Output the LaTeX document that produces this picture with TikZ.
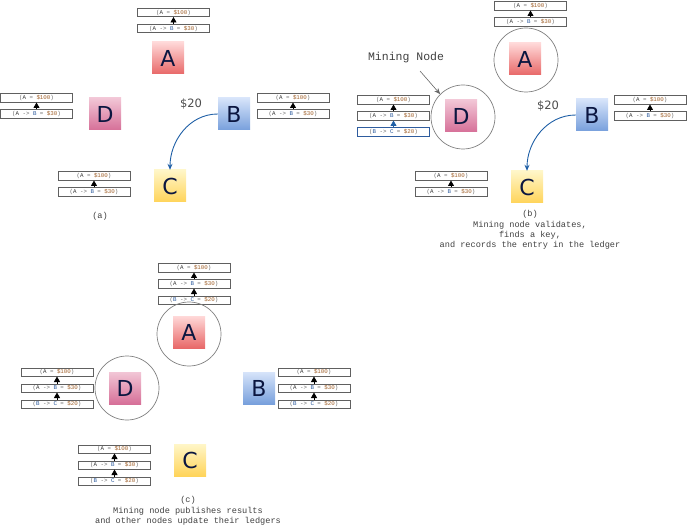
\documentclass[tikz,border=0pt]{standalone}
\usepackage{fontspec}
\setmainfont{DejaVu Sans}
\newfontfamily\monofont{Liberation Mono}
\newfontfamily\letterfont{DejaVu Sans}
\usetikzlibrary{arrows.meta,shapes.geometric}
\definecolor{lgray}{HTML}{606060}
\definecolor{amt}{HTML}{A0602A}
\definecolor{lblue}{HTML}{2E5C9E}
\definecolor{navy}{HTML}{0B1640}
\definecolor{curveblue}{HTML}{1F5FA6}
\newcommand{\lA}{(\textcolor{black!80}{A} = \textcolor{amt}{\$100})}
\newcommand{\lB}{(\textcolor{black!80}{A} -> \textcolor{lblue}{B} = \textcolor{amt}{\$30})}
\newcommand{\lC}{(\textcolor{lblue}{B} -> \textcolor{lblue}{C} = \textcolor{amt}{\$20})}
\newcommand{\lgtwo}[3]{%
  \node[lbox] (#1a) at (#2,#3+4.25) {\lA};
  \node[lbox] (#1b) at (#2,#3+20.25) {\lB};
  \draw[larr] (#1b) -- (#1a);
}
\newcommand{\lgthree}[3]{%
  \lgtwo{#1}{#2}{#3}
  \node[lbox] (#1c) at (#2,#3+36.25) {\lC};
  \draw[larr] (#1c) -- (#1b);
}
\begin{document}
\begin{tikzpicture}[x=1pt,y=-1pt,
  lbox/.style={draw=lgray,fill=white,line width=1pt,minimum width=72pt,minimum height=8.5pt,inner sep=0pt,
    font=\monofont\fontsize{5.8}{5.8}\selectfont,text=black!60},
  larr/.style={-{Triangle[width=6pt,length=5.5pt]},line width=0.8pt,black,shorten >=-0.5pt},
  sq/.style={minimum size=32pt,inner sep=0pt,font=\letterfont\fontsize{22}{22}\selectfont,text=navy,shading=axis,shading angle=0},
  sqA/.style={sq,top color=red!15!white,bottom color={rgb,255:red,232;green,104;blue,104}},
  sqB/.style={sq,top color={rgb,255:red,215;green,228;blue,250},bottom color={rgb,255:red,120;green,160;blue,220}},
  sqC/.style={sq,top color={rgb,255:red,255;green,246;blue,200},bottom color={rgb,255:red,255;green,212;blue,90}},
  sqD/.style={sq,top color={rgb,255:red,242;green,198;blue,214},bottom color={rgb,255:red,214;green,112;blue,152}},
  ring/.style={circle,draw=black!50,line width=0.7pt,minimum size=64pt,inner sep=0pt},
  money/.style={font=\fontsize{11.5}{11.5}\selectfont,text=black!70},
  captext/.style={font=\monofont\fontsize{8.6}{10.4}\selectfont,text=black!75,align=center},
  pay/.style={-{Stealth[width=5pt,length=6pt]},draw=curveblue,line width=0.9pt}]
\useasboundingbox (0,0) rectangle (687,526);
% ---------- (a)
\lgtwo{aA}{173.5}{8.5}
\node[sqA] (aAsq) at (168,58) {A};
\lgtwo{aD}{36.5}{94}
\node[sqD] (aDsq) at (105,114) {D};
\node[sqB] (aBsq) at (234,114) {B};
\lgtwo{aB}{293}{94}
\node[money] (a20) at (191,104) {\$20};
\node[sqC] (aCsq) at (170,186) {C};
\lgtwo{aC}{94}{172}
\draw[pay] (aBsq.west) to[out=180,in=90] (aCsq.north);
\node[captext] (acap) at (100,216) {(a)};
% ---------- (b)
\lgtwo{bA}{530.5}{2}
\node[ring] (bAring) at (526,60) {};
\node[sqA] (bAsq) at (525,59) {A};
\node[money] (b20) at (548,106) {\$20};
\node[sqB] (bBsq) at (592,115) {B};
\lgtwo{bB}{650}{96}
\node[ring] (bDring) at (463,117) {};
\node[sqD] (bDsq) at (461,116) {D};
\lgtwo{bD}{393.5}{96}
\node[lbox,draw=lblue] (bDc) at (393.5,132.25) {\lC};
\draw[larr,curveblue] (bDc) -- (bDb);
\node[font=\monofont\fontsize{11.5}{11.5}\selectfont,text=black!75] (mining) at (406,58) {Mining Node};
\coordinate (mtail) at (420,71);
\draw[-{Stealth[width=5pt,length=6pt]},draw=black!60,line width=0.6pt] (mtail) -- (bDring.135);
\node[sqC] (bCsq) at (527,187) {C};
\lgtwo{bC}{451}{172}
\draw[pay] (bBsq.west) to[out=180,in=90] (bCsq.north);
\node[captext] (bcap) at (530,230) {(b)\\Mining node validates,\\finds a key,\\and records the entry in the ledger};
% ---------- (c)
\lgthree{cA}{194}{264}
\node[ring] (cAring) at (189,334) {};
\node[sqA] (cAsq) at (189,332) {A};
\lgthree{cD}{57}{368}
\node[ring] (cDring) at (127,388) {};
\node[sqD] (cDsq) at (125,388) {D};
\node[sqB] (cBsq) at (259,388) {B};
\lgthree{cB}{314}{368}
\node[sqC] (cCsq) at (190,460) {C};
\lgthree{cC}{114.5}{445}
\node[captext] (ccap) at (188,511) {(c)\\Mining node publishes results\\and other nodes update their ledgers};
\end{tikzpicture}
\end{document}
